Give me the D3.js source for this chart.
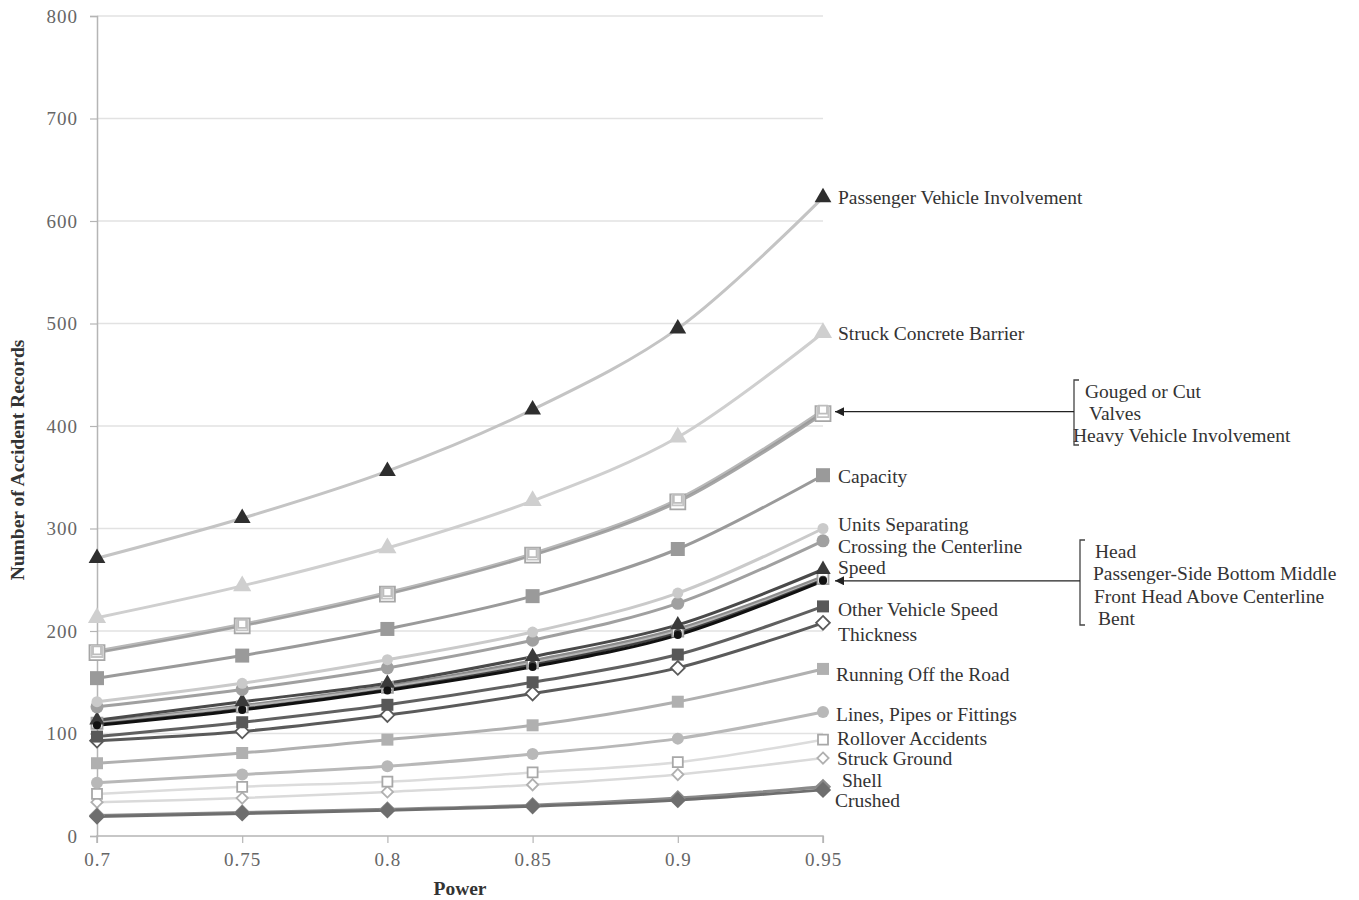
<!DOCTYPE html>
<html>
<head>
<meta charset="utf-8">
<script src="https://cdn.jsdelivr.net/npm/d3@7"></script>
<style>
  html, body { margin: 0; padding: 0; background: #fff; }
  svg { display: block; }
  text { font-family: "Liberation Serif", "DejaVu Serif", serif; }
</style>
</head>
<body>
<svg id="chart" width="1359" height="900"></svg>
<script>
// Power levels on the x axis
const powers = [0.7, 0.75, 0.8, 0.85, 0.9, 0.95];
const powerTickLabels = ["0.7", "0.75", "0.8", "0.85", "0.9", "0.95"];
const yTicks = [0, 100, 200, 300, 400, 500, 600, 700, 800];

// Number of accident records needed, one array per accident attribute
const passengerVehicleInvolvement = [271, 310, 356, 416, 495, 623];
const struckConcreteBarrier       = [213, 244, 281, 327, 389, 491];
const gougedOrCut                 = [181, 207, 238, 276, 329, 416];
const valves                      = [180, 206, 237, 275, 328, 414];
const heavyVehicleInvolvement     = [179, 205, 236, 274, 326, 412];
const capacity                    = [154, 176, 202, 234, 280, 352];
const unitsSeparating             = [131, 149, 172, 199, 237, 300];
const crossingTheCenterline       = [126, 143, 164, 191, 227, 288];
const speed                       = [113, 131, 149, 175, 206, 260];
const head                        = [108, 123, 142, 165, 196, 249];
const passengerSideBottomMiddle   = [110, 126, 145, 169, 200, 251];
const frontHeadAboveCenterline    = [111, 127, 146, 171, 202, 253];
const bent                        = [109, 124, 143, 167, 198, 250];
const otherVehicleSpeed           = [97, 111, 128, 150, 177, 224];
const thickness                   = [93, 102, 118, 139, 164, 208];
const runningOffTheRoad           = [71, 81, 94, 108, 131, 163];
const linesPipesOrFittings        = [52, 60, 68, 80, 95, 121];
const rolloverAccidents           = [41, 48, 53, 62, 72, 94];
const struckGround                = [33, 37, 43, 50, 60, 76];
const shell                       = [20, 23, 26, 30, 37, 48];
const crushed                     = [19, 22, 25, 29, 35, 45];

// Styling for each series (drawn bottom to top)
const series = [
  { name: "Struck Ground", values: struckGround, line: "#dadada", w: 2.5, shape: "diamond", fill: "#fff", stroke: "#b0b0b0", size: 9 },
  { name: "Rollover Accidents", values: rolloverAccidents, line: "#dcdcdc", w: 2.5, shape: "square", fill: "#fff", stroke: "#a8a8a8", size: 10 },
  { name: "Lines, Pipes or Fittings", values: linesPipesOrFittings, line: "#b8b8b8", w: 3, shape: "circle", fill: "#b8b8b8", stroke: "none", size: 12 },
  { name: "Running Off the Road", values: runningOffTheRoad, line: "#b0b0b0", w: 3, shape: "square", fill: "#b0b0b0", stroke: "none", size: 12 },
  { name: "Shell", values: shell, line: "#8a8a8a", w: 3, shape: "diamond", fill: "#8a8a8a", stroke: "none", size: 13 },
  { name: "Crushed", values: crushed, line: "#6e6e6e", w: 3, shape: "diamond", fill: "#6e6e6e", stroke: "none", size: 13 },
  { name: "Thickness", values: thickness, line: "#5a5a5a", w: 3, shape: "diamond", fill: "#fff", stroke: "#5a5a5a", size: 11 },
  { name: "Other Vehicle Speed", values: otherVehicleSpeed, line: "#606060", w: 3, shape: "square", fill: "#585858", stroke: "none", size: 12 },
  { name: "Front Head Above Centerline", values: frontHeadAboveCenterline, line: "#8c8c8c", w: 3, shape: "circle", fill: "#8c8c8c", stroke: "none", size: 10 },
  { name: "Passenger-Side Bottom Middle", values: passengerSideBottomMiddle, line: "#b4b4b4", w: 2.5, shape: "square", fill: "#fff", stroke: "#a0a0a0", size: 11 },
  { name: "Bent", values: bent, line: "#444", w: 2.5, shape: "circle", fill: "#444", stroke: "none", size: 8 },
  { name: "Speed", values: speed, line: "#4a4a4a", w: 3, shape: "triangle", fill: "#3a3a3a", stroke: "none", size: 11 },
  { name: "Head", values: head, line: "#111", w: 3, shape: "circle", fill: "#111", stroke: "none", size: 8 },
  { name: "Crossing the Centerline", values: crossingTheCenterline, line: "#a0a0a0", w: 3, shape: "circle", fill: "#a0a0a0", stroke: "none", size: 13 },
  { name: "Units Separating", values: unitsSeparating, line: "#cacaca", w: 3, shape: "circle", fill: "#cacaca", stroke: "none", size: 11 },
  { name: "Capacity", values: capacity, line: "#9a9a9a", w: 3, shape: "square", fill: "#9a9a9a", stroke: "none", size: 14 },
  { name: "Heavy Vehicle Involvement", values: heavyVehicleInvolvement, line: "#a6a6a6", w: 3, shape: "square", fill: "#fff", stroke: "#a6a6a6", size: 15 },
  { name: "Valves", values: valves, line: "#9c9c9c", w: 2.5, shape: "square", fill: "#fff", stroke: "#c4c4c4", size: 11 },
  { name: "Gouged or Cut", values: gougedOrCut, line: "#b8b8b8", w: 2, shape: "square", fill: "#fff", stroke: "#bdbdbd", size: 8 },
  { name: "Struck Concrete Barrier", values: struckConcreteBarrier, line: "#cfcfcf", w: 3, shape: "triangle", fill: "#cfcfcf", stroke: "none", size: 13 },
  { name: "Passenger Vehicle Involvement", values: passengerVehicleInvolvement, line: "#c4c4c4", w: 3, shape: "triangle", fill: "#2e2e2e", stroke: "none", size: 12 }
];

// Right-hand end labels: which series they belong to and a vertical nudge
const endLabels = [
  { name: "Passenger Vehicle Involvement", dx: 15, dy: 0 },
  { name: "Struck Concrete Barrier", dx: 15, dy: 0 },
  { name: "Capacity", dx: 15, dy: 1 },
  { name: "Units Separating", dx: 15, dy: -4 },
  { name: "Crossing the Centerline", dx: 15, dy: 5 },
  { name: "Speed", dx: 15, dy: -2 },
  { name: "Other Vehicle Speed", dx: 15, dy: 3 },
  { name: "Thickness", dx: 15, dy: 11 },
  { name: "Running Off the Road", dx: 13, dy: 5 },
  { name: "Lines, Pipes or Fittings", dx: 13, dy: 2 },
  { name: "Rollover Accidents", dx: 14, dy: -1 },
  { name: "Struck Ground", dx: 14, dy: 0 },
  { name: "Shell", dx: 19, dy: -7 },
  { name: "Crushed", dx: 12, dy: 10 }
];

// Grouped labels attached by bracket and arrow
const groupTopNames = ["Gouged or Cut", "Valves", "Heavy Vehicle Involvement"];
const groupTopIndent = [12, 16, 0];
const groupBottomNames = ["Head", "Passenger-Side Bottom Middle", "Front Head Above Centerline", "Bent"];
const groupBottomIndent = [3, 1, 2, 6];

const svg = d3.select("#chart");
const margin = { left: 97, right: 536, top: 16, bottom: 64 };
const W = 1359, H = 900;
const labelSize = 19.5;

const x = d3.scalePoint().domain(powers).range([margin.left, W - margin.right]);
const y = d3.scaleLinear().domain([0, 800]).range([H - margin.bottom, margin.top]);

// Gridlines
svg.append("g")
  .selectAll("line")
  .data(yTicks.filter(d => d > 0))
  .join("line")
  .attr("x1", margin.left).attr("x2", W - margin.right)
  .attr("y1", d => y(d)).attr("y2", d => y(d))
  .attr("stroke", "#e2e2e2").attr("stroke-width", 1.5);

// Y axis
const yAxis = svg.append("g")
  .attr("transform", `translate(${margin.left},0)`)
  .call(d3.axisLeft(y).tickValues(yTicks).tickSize(7).tickPadding(12).tickFormat(d3.format("d")));
yAxis.select(".domain").attr("stroke", "#b5b5b5").attr("stroke-width", 1.5);
yAxis.selectAll(".tick line").attr("stroke", "#b5b5b5").attr("stroke-width", 1.2);
yAxis.selectAll(".tick text").attr("fill", "#666").attr("font-size", 19)
  .attr("letter-spacing", 1)
  .attr("font-family", "Liberation Serif, serif");

// X axis
const xAxis = svg.append("g")
  .attr("transform", `translate(0,${y(0)})`)
  .call(d3.axisBottom(x).tickSize(7).tickPadding(10).tickFormat((d, i) => powerTickLabels[i]));
xAxis.select(".domain").attr("stroke", "#b5b5b5").attr("stroke-width", 1.5)
  .attr("d", `M${margin.left},7V0H${W - margin.right}V7`);
xAxis.selectAll(".tick line").attr("stroke", "#b5b5b5").attr("stroke-width", 1.2);
xAxis.selectAll(".tick text").attr("fill", "#666").attr("font-size", 19)
  .attr("letter-spacing", 1)
  .attr("font-family", "Liberation Serif, serif");

// Axis titles
svg.append("text")
  .attr("x", 460).attr("y", 895)
  .attr("text-anchor", "middle")
  .attr("font-size", 19.5).attr("font-weight", "bold").attr("fill", "#333")
  .text("Power");
svg.append("text")
  .attr("transform", `translate(24,${(y(0) + y(800)) / 2 + 34}) rotate(-90)`)
  .attr("text-anchor", "middle")
  .attr("font-size", 19.5).attr("font-weight", "bold").attr("fill", "#333")
  .text("Number of Accident Records");

// Series lines
const line = d3.line()
  .x((d, i) => x(powers[i]))
  .y(d => y(d))
  .curve(d3.curveCatmullRom.alpha(0.5));

const gSeries = svg.append("g");
series.forEach(s => {
  gSeries.append("path")
    .attr("d", line(s.values))
    .attr("fill", "none")
    .attr("stroke", s.line)
    .attr("stroke-width", s.w)
    .attr("stroke-linejoin", "round");
});

// Markers
const symbolType = { square: d3.symbolSquare, circle: d3.symbolCircle, diamond: d3.symbolDiamond2, triangle: d3.symbolTriangle };
series.forEach(s => {
  const area = s.shape === "circle" ? Math.PI * (s.size / 2) ** 2
             : s.shape === "triangle" ? s.size * s.size * 0.85
             : s.size * s.size;
  const sym = d3.symbol().type(symbolType[s.shape]).size(area);
  gSeries.append("g")
    .selectAll("path")
    .data(s.values)
    .join("path")
    .attr("transform", (d, i) => `translate(${x(powers[i])},${y(d)})`)
    .attr("d", sym)
    .attr("fill", s.fill)
    .attr("stroke", s.stroke)
    .attr("stroke-width", s.stroke === "none" ? 0 : 1.8);
});

// End labels
const byName = new Map(series.map(s => [s.name, s]));
const gLabels = svg.append("g").attr("font-size", labelSize).attr("fill", "#333");
endLabels.forEach(l => {
  const s = byName.get(l.name);
  const last = s.values[s.values.length - 1];
  gLabels.append("text")
    .attr("x", x(powers[powers.length - 1]) + l.dx)
    .attr("y", y(last) + l.dy)
    .attr("dy", "0.35em")
    .text(l.name);
});

// Bracketed group annotations with arrows pointing at the line ends
svg.append("defs").append("marker")
  .attr("id", "arrowhead")
  .attr("viewBox", "0 0 10 10")
  .attr("refX", 10).attr("refY", 5)
  .attr("markerWidth", 10).attr("markerHeight", 9)
  .attr("markerUnits", "userSpaceOnUse")
  .attr("orient", "auto")
  .append("path").attr("d", "M10,5L0,0L0,10Z").attr("fill", "#222");

function bracketGroup(names, indents, targetValue, bracketX, top, bottom, textX, lineGap) {
  const g = svg.append("g");
  const ty = y(targetValue);
  g.append("path")
    .attr("d", `M${bracketX + 5},${top}H${bracketX}V${bottom}H${bracketX + 5}`)
    .attr("fill", "none").attr("stroke", "#444").attr("stroke-width", 1.3);
  g.append("line")
    .attr("x1", bracketX).attr("x2", x(powers[powers.length - 1]) + 12)
    .attr("y1", ty).attr("y2", ty)
    .attr("stroke", "#222").attr("stroke-width", 1.3)
    .attr("marker-end", "url(#arrowhead)");
  names.forEach((n, i) => {
    g.append("text")
      .attr("x", textX + indents[i])
      .attr("y", top + 11 + i * lineGap)
      .attr("dy", "0.35em")
      .attr("font-size", labelSize).attr("fill", "#333")
      .text(n);
  });
}
bracketGroup(groupTopNames, groupTopIndent, valves[valves.length - 1], 1074, 380, 445, 1073, 22);
bracketGroup(groupBottomNames, groupBottomIndent, head[head.length - 1], 1080, 540, 625, 1092, 22.5);
</script>
</body>
</html>
